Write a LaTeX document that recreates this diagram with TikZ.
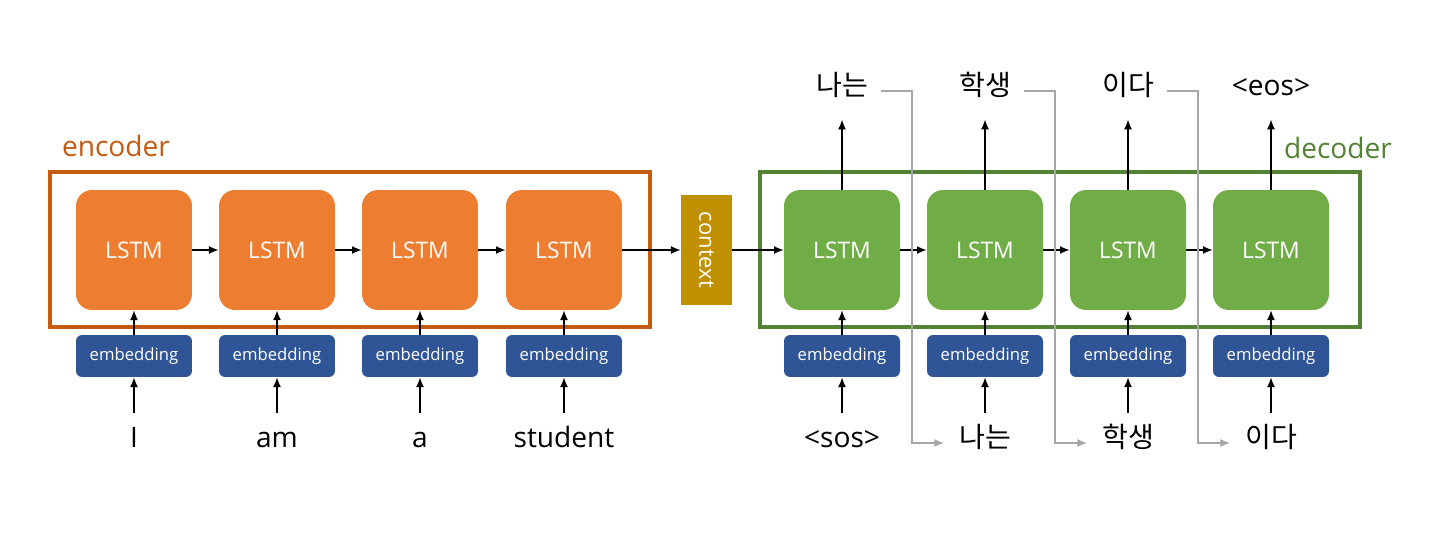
\documentclass[tikz,border=0pt]{standalone}
\usepackage{fontspec}
\usetikzlibrary{arrows.meta}
\setmainfont{Open Sans}
\newfontfamily\kr{Noto Sans CJK KR}
\definecolor{encfill}{HTML}{ED7D31}
\definecolor{encline}{HTML}{C55A11}
\definecolor{decfill}{HTML}{70AD47}
\definecolor{decline}{HTML}{548235}
\definecolor{embfill}{HTML}{2F5597}
\definecolor{ctxfill}{HTML}{BF9000}
\definecolor{feedgray}{HTML}{A6A6A6}

\begin{document}
\begin{tikzpicture}[
x=0.02cm,y=-0.02cm,
lstmenc/.style={rectangle,rounded corners=0.32cm,fill=encfill,text=white,minimum width=2.32cm,minimum height=2.4cm,font=\fontsize{13}{15}\selectfont},
lstmdec/.style={lstmenc,fill=decfill},
embed/.style={rectangle,rounded corners=0.12cm,fill=embfill,text=white,minimum width=2.32cm,minimum height=0.84cm,font=\fontsize{9.5}{11}\selectfont},
frame/.style={rectangle,draw,line width=2.3pt,minimum width=12cm,minimum height=3.1cm},
word/.style={text height=0.75em,text depth=0.2em,font=\fontsize{16}{19}\selectfont},
boxlabel/.style={font=\fontsize{16}{19}\selectfont},
arr/.style={-{Latex[length=5.5pt,width=4.5pt]},line width=0.8pt},
feed/.style={-{Latex[length=5.5pt,width=4.5pt]},draw=feedgray,line width=0.9pt,shorten <=4pt,shorten >=5pt}
]
\useasboundingbox (0,0) rectangle (1440,540);

% encoder / decoder frames
\node[frame,draw=encline] (encbox) at (350,249.5) {};
\node[frame,draw=decline] (decbox) at (1060,249.5) {};
\node[boxlabel,text=encline] (enclab) at (116,146) {encoder};
\node[boxlabel,text=decline] (declab) at (1338,148) {decoder};

% cells
\foreach \i/\x in {1/134,2/277,3/420,4/564}{
  \node[lstmenc] (l\i) at (\x,250) {LSTM};
  \node[embed] (e\i) at (\x,356) {embedding};
}
\foreach \i/\x in {5/842,6/985,7/1128,8/1271}{
  \node[lstmdec] (l\i) at (\x,250) {LSTM};
  \node[embed] (e\i) at (\x,356) {embedding};
}

\node[rectangle,fill=ctxfill,text=white,rotate=-90,minimum width=2.2cm,minimum height=1.02cm,font=\fontsize{12.5}{14}\selectfont] (ctx) at (706.5,250) {context};

% inputs
\node[word] (w1) at (134,443) {I};
\node[word] (w2) at (277,443) {am};
\node[word] (w3) at (420,443) {a};
\node[word] (w4) at (564,443) {student};
\node[word] (w5) at (842,443) {<sos>};
\node[word] (w6) at (985,443) {\kr 나는};
\node[word] (w7) at (1128,443) {\kr 학생};
\node[word] (w8) at (1271,443) {\kr 이다};

% outputs
\node[word] (o1) at (842,91) {\kr 나는};
\node[word] (o2) at (985,91) {\kr 학생};
\node[word] (o3) at (1128,91) {\kr 이다};
\node[word] (o4) at (1271,91) {<eos>};

% arrows
\foreach \i in {1,...,8}{
  \draw[arr,shorten <=9pt] (w\i) -- (e\i);
  \draw[arr] (e\i) -- (l\i);
}
\foreach \i/\j in {1/2,2/3,3/4,5/6,6/7,7/8}
  \draw[arr] (l\i) -- (l\j);
\draw[arr] (l4) -- (ctx);
\draw[arr] (ctx) -- (l5);
\foreach \i/\j in {5/1,6/2,7/3,8/4}
  \draw[arr,shorten >=8pt] (l\i) -- (o\j);

% feeding outputs back in
\coordinate (f1) at (912,0);
\coordinate (f2) at (1055,0);
\coordinate (f3) at (1198,0);
\draw[feed] (o1.east) -| (f1 |- w6) -- (w6);
\draw[feed] (o2.east) -| (f2 |- w7) -- (w7);
\draw[feed] (o3.east) -| (f3 |- w8) -- (w8);
\end{tikzpicture}
\end{document}
